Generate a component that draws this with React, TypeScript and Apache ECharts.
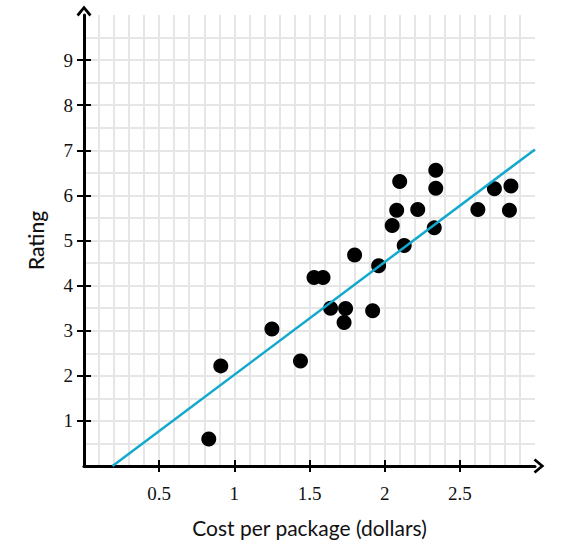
import React, { useEffect, useRef } from "react";
import * as echarts from "echarts";

const costs = [0.83, 0.91, 1.25, 1.44, 1.53, 1.59, 1.64, 1.74, 1.73, 1.8, 1.92, 1.96, 2.05, 2.08, 2.1, 2.13, 2.22, 2.33, 2.34, 2.34, 2.62, 2.73, 2.83, 2.84];
const ratings = [0.6, 2.22, 3.04, 2.33, 4.18, 4.18, 3.5, 3.49, 3.18, 4.68, 3.44, 4.44, 5.33, 5.67, 6.31, 4.89, 5.69, 5.28, 6.16, 6.56, 5.69, 6.15, 5.67, 6.21];
const trendLine = [[0.19, 0], [3.0, 7.02]];
const xTickValues = [0.5, 1, 1.5, 2, 2.5];
const yTickValues = [1, 2, 3, 4, 5, 6, 7, 8, 9];

const arrowPath = "path://M5,0 L10,6 L8.6,7.2 L5,2.8 L1.4,7.2 L0,6 Z";
const gridColor = "#e6e6e6";
const labelFont = "Liberation Serif";
const nameFont = "Lato";

export default function App() {
  const ref = useRef<HTMLDivElement>(null);
  useEffect(() => {
    document.body.style.margin = "0";
    const chart = echarts.init(ref.current!, null, { renderer: "svg" });
    const points = costs.map((c, i) => [c, ratings[i]]);
    const tickStyle = { color: "#000", width: 2 };
    chart.setOption({
      animation: false,
      grid: { left: 84, top: 15, right: 47, bottom: 83 },
      xAxis: [
        {
          type: "value",
          min: 0,
          max: 3,
          interval: 0.5,
          position: "bottom",
          name: "Cost per package (dollars)",
          nameLocation: "middle",
          nameGap: 51,
          nameTextStyle: { fontFamily: nameFont, fontSize: 21, color: "#111" },
          axisLine: {
            show: true,
            lineStyle: { color: "#000", width: 3 },
            symbol: ["none", arrowPath],
            symbolSize: [15, 11],
            symbolOffset: [0, 4],
          },
          axisTick: { show: true, length: 6, lineStyle: tickStyle, customValues: xTickValues },
          axisLabel: {
            customValues: xTickValues,
            margin: 18,
            fontFamily: labelFont,
            fontSize: 19,
            color: "#111",
          },
          splitLine: { show: true, lineStyle: { color: gridColor, width: 2 } },
          minorTick: { show: false, splitNumber: 5 },
          minorSplitLine: { show: true, lineStyle: { color: gridColor, width: 2 } },
        },
        {
          type: "value",
          min: 0,
          max: 3,
          interval: 0.5,
          position: "bottom",
          axisLine: { show: false },
          axisTick: { show: true, inside: true, length: 6, lineStyle: tickStyle, customValues: xTickValues },
          axisLabel: { show: false },
          splitLine: { show: false },
        },
      ],
      yAxis: [
        {
          type: "value",
          min: 0,
          max: 10,
          interval: 1,
          position: "left",
          name: "Rating",
          nameLocation: "middle",
          nameGap: 38,
          nameTextStyle: { fontFamily: nameFont, fontSize: 21, fontWeight: 500, color: "#111" },
          axisLine: {
            show: true,
            lineStyle: { color: "#000", width: 3 },
            symbol: ["none", arrowPath],
            symbolSize: [15, 11],
            symbolOffset: [0, 4],
          },
          axisTick: { show: true, length: 7, lineStyle: tickStyle, customValues: yTickValues },
          axisLabel: {
            customValues: yTickValues,
            margin: 11,
            fontFamily: labelFont,
            fontSize: 19,
            color: "#111",
          },
          splitLine: { show: true, lineStyle: { color: gridColor, width: 2 } },
          minorTick: { show: false, splitNumber: 2 },
          minorSplitLine: { show: true, lineStyle: { color: gridColor, width: 2 } },
        },
        {
          type: "value",
          min: 0,
          max: 10,
          interval: 1,
          position: "left",
          axisLine: { show: false },
          axisTick: { show: true, inside: true, length: 7, lineStyle: tickStyle, customValues: yTickValues },
          axisLabel: { show: false },
          splitLine: { show: false },
        },
      ],
      series: [
        {
          type: "scatter",
          data: points,
          symbolSize: 15,
          itemStyle: { color: "#000", opacity: 1 },
          z: 3,
        },
        {
          type: "line",
          data: trendLine,
          showSymbol: false,
          symbol: "none",
          lineStyle: { color: "#14a9cc", width: 2.5 },
          z: 4,
        },
      ],
    });
    return () => chart.dispose();
  }, []);
  return <div ref={ref} style={{ width: 582, height: 549 }} />;
}
